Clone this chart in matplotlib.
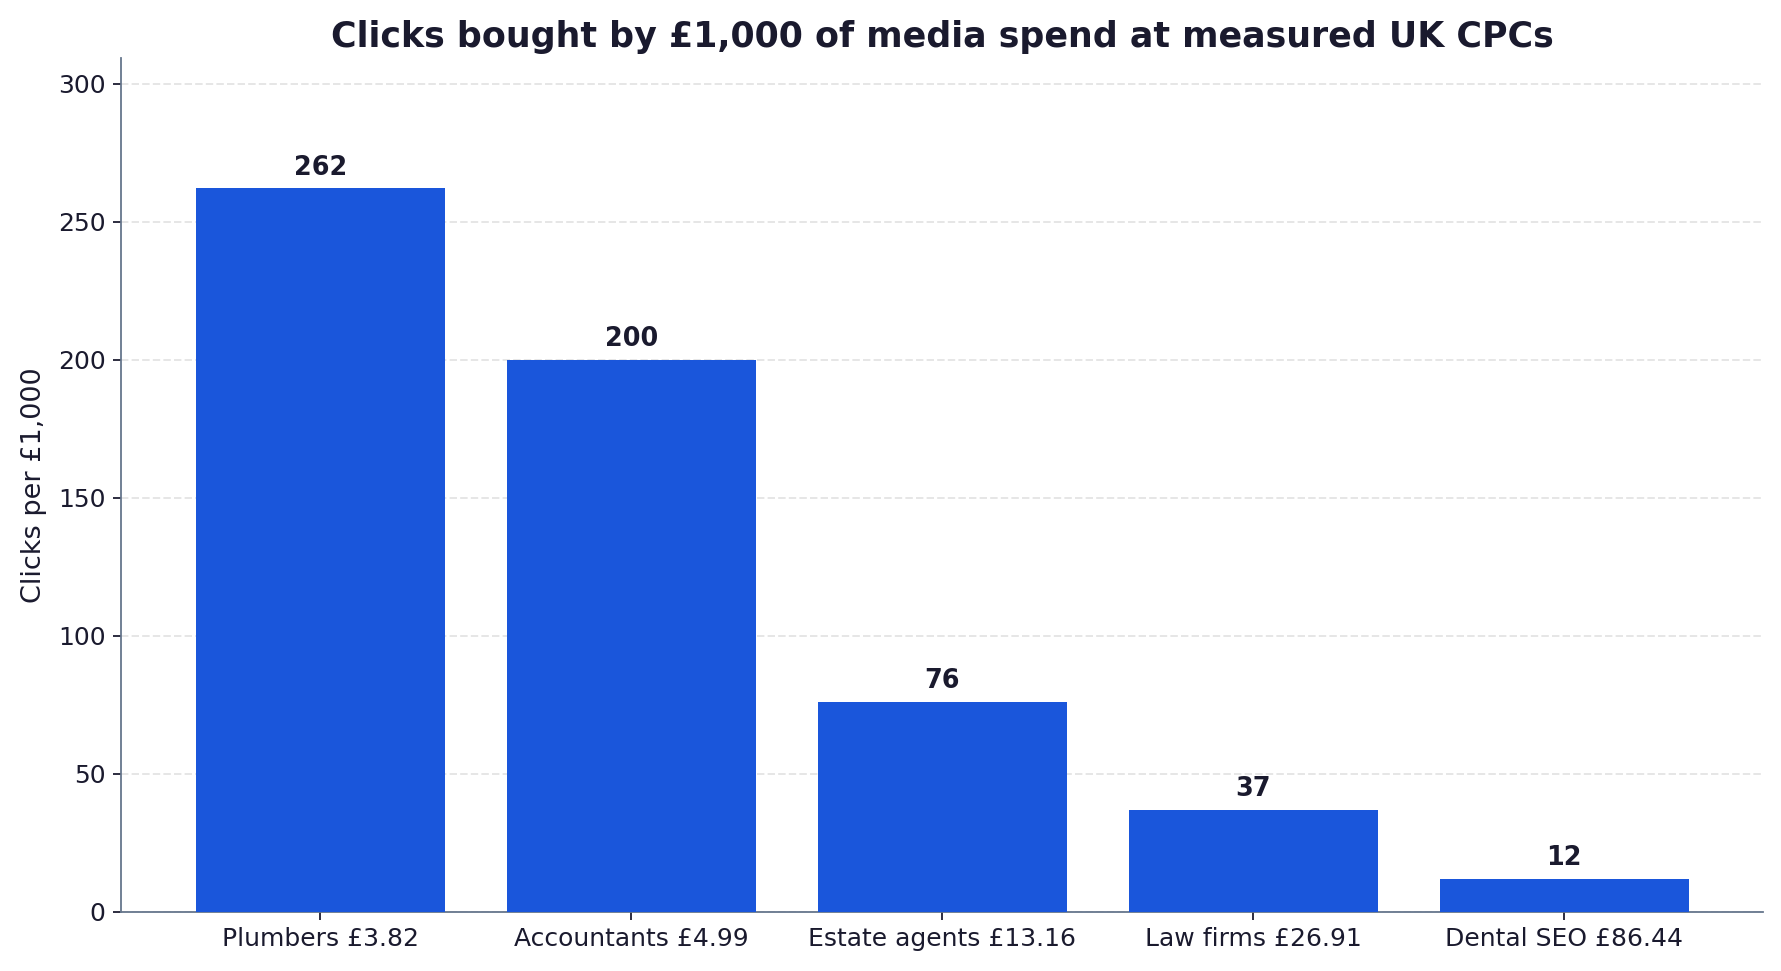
import matplotlib
matplotlib.use("Agg")
import matplotlib.pyplot as plt

# ── Data ──────────────────────────────────────────────────────────────────────
categories = ["Plumbers £3.82", "Accountants £4.99", "Estate agents £13.16",
              "Law firms £26.91", "Dental SEO £86.44"]
clicks = [262, 200, 76, 37, 12]

BAR_COLOR  = "#1a56db"
TEXT_COLOR = "#1a1a2e"
SPINE_COLOR = "#64748b"

fig = plt.figure(figsize=(1781 / 160, 971 / 160), dpi=160)
ax = fig.add_axes([0.068, 0.061, 0.922, 0.879])

ax.bar(categories, clicks, width=0.8, color=BAR_COLOR, zorder=3)

for i, v in enumerate(clicks):
    ax.annotate(f"{v}", xy=(i, v), xytext=(0, 3.5), textcoords="offset points",
                ha="center", va="bottom", fontsize=11.5, fontweight="bold",
                color=TEXT_COLOR)

ax.set_ylim(0, max(clicks) * 1.18)
ax.set_yticks([0, 50, 100, 150, 200, 250, 300])
ax.set_ylabel("Clicks per £1,000", fontsize=12.2, color=TEXT_COLOR, labelpad=5)
ax.set_title("Clicks bought by £1,000 of media spend at measured UK CPCs",
             fontsize=15.7, fontweight="bold", color=TEXT_COLOR, pad=5)

ax.grid(axis="y", linestyle="--", color="#e6e6e6", linewidth=0.9, zorder=0)
ax.set_axisbelow(True)
for side in ("top", "right"):
    ax.spines[side].set_visible(False)
for side in ("left", "bottom"):
    ax.spines[side].set_color(SPINE_COLOR)
ax.tick_params(axis="both", labelsize=11.25, colors=TEXT_COLOR)

fig.savefig("out.png", dpi=160)
